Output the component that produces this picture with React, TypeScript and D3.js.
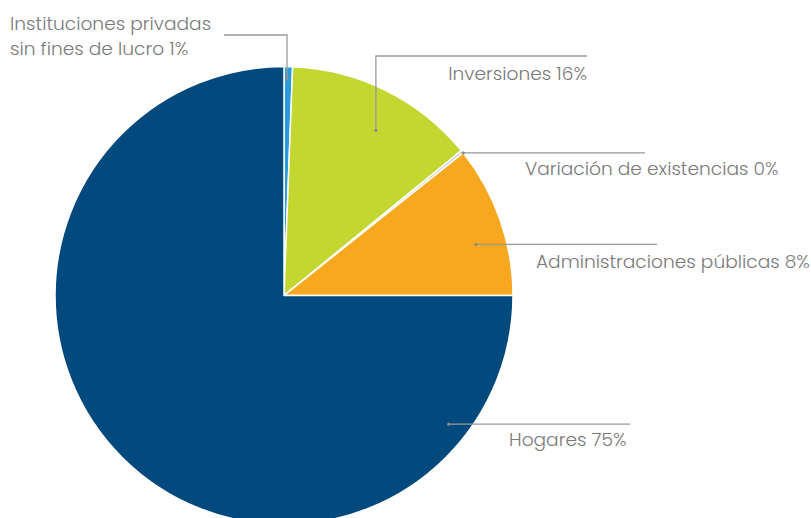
import React from "react";
import * as d3 from "d3";

const categories = [
  "Instituciones privadas sin fines de lucro",
  "Inversiones",
  "Variación de existencias",
  "Administraciones públicas",
  "Hogares",
];
// shares as drawn in the picture (%)
const shares = [0.6, 13.5, 0.2, 10.7, 75.0];
// percentages as printed on the labels
const labelPcts = ["1%", "16%", "0%", "8%", "75%"];
const colors = ["#2A9BD8", "#C2D72F", "#C9C9C9", "#F8A81F", "#02497E"];

const W = 811;
const H = 518;
const cx = 284;
const cy = 295.5;
const R = 229;

// leader layout: anchor (degrees clockwise from top, radius fraction), path shape, label placement
const leaders = [
  { ang: 0.8, rf: 0.945, elbowY: 35, endX: 224, vertical: true, lines: ["Instituciones privadas", "sin fines de lucro 1%"], tx: 10, ty: 30, anchor: "start" },
  { ang: 29.1, rf: 0.825, elbowY: 56, endX: 587, vertical: true, lines: ["Inversiones 16%"], tx: 587, ty: 80, anchor: "end" },
  { ang: 51.5, rf: 1.0, elbowY: 0, endX: 645, vertical: false, lines: ["Variación de existencias 0%"], tx: 525, ty: 175, anchor: "start" },
  { ang: 75.1, rf: 0.868, elbowY: 0, endX: 657, vertical: false, lines: ["Administraciones públicas 8%"], tx: 536, ty: 268, anchor: "start" },
  { ang: 128.0, rf: 0.913, elbowY: 0, endX: 630, vertical: false, lines: ["Hogares 75%"], tx: 509, ty: 446, anchor: "start" },
];

export default function App() {
  const pie = d3.pie<number>().sort(null).value((d) => d)(shares);
  const arc = d3.arc<d3.PieArcDatum<number>>().innerRadius(0).outerRadius(R);
  const fontFamily = "Poppins, 'Open Sans', 'Noto Sans', sans-serif";

  return (
    <svg width={W} height={H} style={{ position: "absolute", left: 0, top: 0, display: "block" }}>
      <rect width={W} height={H} fill="#ffffff" />
      <g transform={`translate(${cx},${cy})`}>
        {pie.map((p, i) => (
          <path key={categories[i]} d={arc(p) || ""} fill={colors[i]} stroke="#ffffff" strokeWidth={1.5} strokeLinejoin="round" />
        ))}
      </g>
      {leaders.map((l, i) => {
        const a = (l.ang * Math.PI) / 180;
        const x0 = cx + Math.sin(a) * R * l.rf;
        const y0 = cy - Math.cos(a) * R * l.rf;
        const pts = l.vertical
          ? [[x0, y0], [x0, l.elbowY], [l.endX, l.elbowY]]
          : [[x0, y0], [l.endX, y0]];
        const line = d3.line()(pts as [number, number][]) || "";
        return (
          <g key={i}>
            <path d={line} fill="none" stroke="#9a9a9a" strokeWidth={1.3} />
            <circle cx={x0} cy={y0} r={1.6} fill="#8a8a8a" />
            <text x={l.tx} y={l.ty} textAnchor={l.anchor as any} fontFamily={fontFamily} fontWeight={300} fontSize={18.6} fill="#7a7a7a">
              {l.lines.map((t, j) => (
                <tspan key={j} x={l.tx} dy={j === 0 ? 0 : 25}>{t}</tspan>
              ))}
            </text>
          </g>
        );
      })}
    </svg>
  );
}
